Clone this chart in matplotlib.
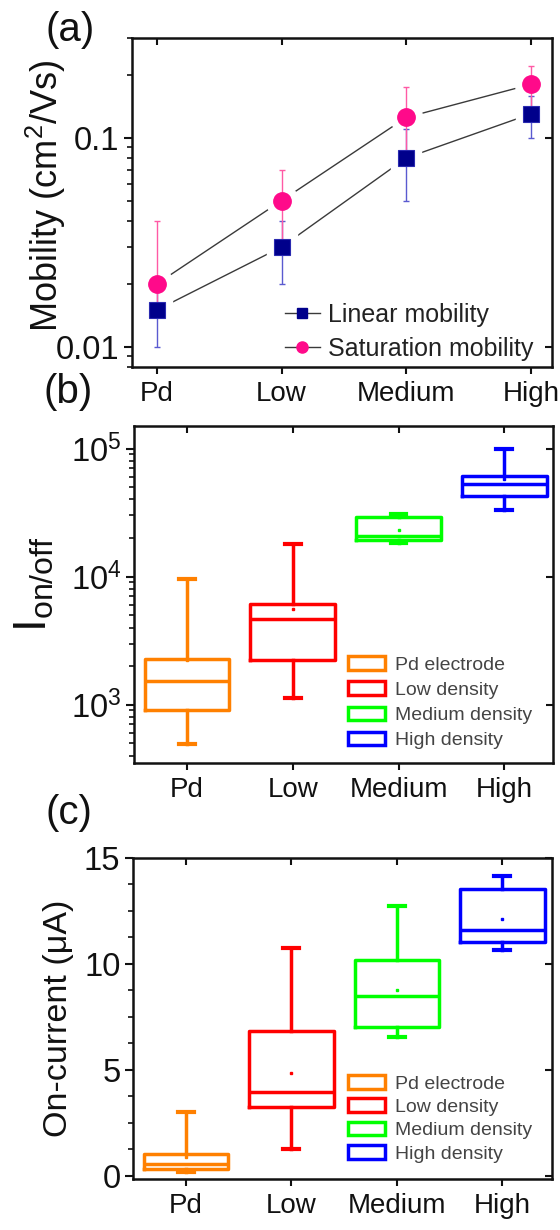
import matplotlib
matplotlib.use('Agg')
import matplotlib.pyplot as plt
import numpy as np
from matplotlib.ticker import LogLocator, NullLocator, NullFormatter, FixedLocator
from matplotlib.patches import Patch
from matplotlib.lines import Line2D

plt.rcParams['font.family'] = ['Liberation Sans', 'DejaVu Sans']
plt.rcParams['mathtext.fontset'] = 'custom'
plt.rcParams['mathtext.rm'] = 'Liberation Sans'
plt.rcParams['mathtext.it'] = 'Liberation Sans:italic'
plt.rcParams['mathtext.bf'] = 'Liberation Sans:bold'

# ---------------- data ----------------
categories = ['Pd', 'Low', 'Medium', 'High']

linear_mob = [0.015, 0.030, 0.080, 0.130]
linear_lo = [0.010, 0.020, 0.050, 0.100]
linear_hi = [0.020, 0.040, 0.110, 0.158]
sat_mob = [0.020, 0.050, 0.125, 0.180]
sat_lo = [0.015, 0.030, 0.075, 0.139]
sat_hi = [0.040, 0.070, 0.175, 0.220]

legend_labels = ['Pd electrode', 'Low density', 'Medium density', 'High density']
box_colors = ['#FF8000', '#FF0000', '#00FF00', '#0000FF']

onoff_whislo = [497, 1127, 18300, 33300]
onoff_q1 = [915, 2240, 19400, 42900]
onoff_med = [1517, 4630, 20900, 52800]
onoff_q3 = [2265, 6160, 29100, 61400]
onoff_whishi = [9530, 18000, 30900, 100000]
onoff_mean = [2250, 5570, 23200, 57800]

ion_whislo = [0.17, 1.26, 6.54, 10.67]
ion_q1 = [0.31, 3.27, 7.01, 11.03]
ion_med = [0.57, 3.94, 8.50, 11.62]
ion_q3 = [1.02, 6.82, 10.20, 13.55]
ion_whishi = [3.00, 10.75, 12.74, 14.14]
ion_mean = [0.90, 4.83, 8.77, 12.12]

# ---------------- figure ----------------
W, H = 560, 1230
fig = plt.figure(figsize=(W / 100, H / 100), dpi=100)

def fax(l, t, r, b):
    return fig.add_axes([l / W, 1 - b / H, (r - l) / W, (b - t) / H])

axA = fax(132, 38, 552, 367)
axB = fax(134, 426, 553, 763)
axC = fax(133, 858, 552, 1179)

x = np.arange(1, len(categories) + 1)
TXT = '#111111'


def style_main(ax, xlim):
    for s in ax.spines.values():
        s.set_linewidth(1.8)
        s.set_color(TXT)
    ax.set_xlim(*xlim)
    ax.set_xticks(x)
    ax.set_xticklabels(categories)
    ax.tick_params(axis='x', which='major', direction='out', length=5, width=1.5,
                   pad=5, labelsize=20, colors=TXT, top=False)
    ax.tick_params(axis='x', which='minor', bottom=False, top=False)
    ax.tick_params(axis='y', which='major', direction='out', length=6, width=1.5,
                   pad=3, labelsize=23.5, colors=TXT, right=False)
    ax.tick_params(axis='y', which='minor', direction='out', length=3.5, width=1.2,
                   colors=TXT, right=False)


def add_mirror(ax, yticks):
    axt = ax.twiny()
    axt.set_xlim(ax.get_xlim())
    axt.set_xticks(ax.get_xticks())
    axt.xaxis.set_minor_locator(NullLocator())
    axt.tick_params(axis='x', which='major', direction='in', length=5, width=1.5,
                    labeltop=False, top=True, colors=TXT)
    axr = ax.twinx()
    axr.set_yscale(ax.get_yscale())
    axr.set_ylim(ax.get_ylim())
    axr.set_yticks(yticks)
    axr.yaxis.set_minor_locator(NullLocator())
    axr.tick_params(axis='y', which='major', direction='in', length=5, width=1.5,
                    labelright=False, right=True, colors=TXT)
    for a in (axt, axr):
        for s in a.spines.values():
            s.set_visible(False)


# ---------------- panel (a) ----------------
ax = axA
navy = '#00008B'
pink = '#FF0A8A'
ax.set_yscale('log')
ax.plot(x, linear_mob, color='#3a3a3a', lw=1.0, zorder=1)
ax.plot(x, sat_mob, color='#3a3a3a', lw=1.0, zorder=1)
ax.plot(x, linear_mob, ls='none', marker='s', ms=22, mfc='white', mec='white', zorder=2)
ax.plot(x, sat_mob, ls='none', marker='o', ms=23, mfc='white', mec='white', zorder=2)
lm = np.array(linear_mob)
sm = np.array(sat_mob)
ax.errorbar(x, lm, yerr=[lm - np.array(linear_lo), np.array(linear_hi) - lm], fmt='none',
            ecolor='#5a5ad0', elinewidth=1.0, capsize=2, capthick=1.0, zorder=3)
ax.errorbar(x, sm, yerr=[sm - np.array(sat_lo), np.array(sat_hi) - sm], fmt='none',
            ecolor='#FF5AA5', elinewidth=1.0, capsize=2, capthick=1.0, zorder=3)
ax.plot(x, linear_mob, ls='none', marker='s', ms=11, mfc=navy, mec='#2a2ab0', mew=0.8, zorder=4)
ax.plot(x, sat_mob, ls='none', marker='o', ms=12.5, mfc=pink, mec=pink, zorder=4)
ax.set_ylim(0.008, 0.3)
style_main(ax, (0.8, 4.17))
ax.set_yticks([0.01, 0.1])
ax.set_yticklabels(['0.01', '0.1'])
ax.yaxis.set_minor_locator(LogLocator(base=10, subs=np.arange(2, 10)))
ax.yaxis.set_minor_formatter(NullFormatter())
ax.set_ylabel(r'Mobility (cm$^{\mathregular{2}}$/Vs)', fontsize=26, color=TXT)
ax.yaxis.set_label_coords(-0.153, 0.52)
hA = [Line2D([], [], color='#3a3a3a', lw=1.0, marker='s', ms=7, mfc=navy, mec=navy),
      Line2D([], [], color='#3a3a3a', lw=1.0, marker='o', ms=8, mfc=pink, mec=pink)]
leg = ax.legend(hA, ['Linear mobility', 'Saturation mobility'], loc='upper left',
                bbox_to_anchor=(0.364, 0.196), frameon=False, fontsize=18,
                handlelength=1.4, handletextpad=0.32, labelspacing=0.4,
                borderpad=0, borderaxespad=0)
for t in leg.get_texts():
    t.set_color('#222222')
add_mirror(ax, [0.01, 0.1])


# ---------------- box panels ----------------
def draw_boxes(ax, whislo, q1, med, q3, whishi, mean):
    stats = []
    for i in range(len(categories)):
        stats.append({'whislo': whislo[i], 'q1': q1[i], 'med': med[i], 'q3': q3[i],
                      'whishi': whishi[i], 'mean': mean[i], 'fliers': []})
    res = ax.bxp(stats, positions=x, widths=0.8, capwidths=0.15, showmeans=True,
                 showfliers=False, patch_artist=False)
    for i, c in enumerate(box_colors):
        res['boxes'][i].set(color=c, lw=2.5)
        res['medians'][i].set(color=c, lw=2.5)
        for j in (2 * i, 2 * i + 1):
            res['whiskers'][j].set(color=c, lw=2.5)
            res['caps'][j].set(color=c, lw=3.0)
        res['means'][i].set(marker='s', ms=2.0, mfc=c, mec=c)


def box_legend(ax, anchor, spacing):
    handles = [Patch(facecolor='white', edgecolor=c, lw=2.5) for c in box_colors]
    leg = ax.legend(handles, legend_labels, loc='upper left', bbox_to_anchor=anchor,
                    frameon=False, fontsize=14, handlelength=1.9, handleheight=0.7,
                    handletextpad=0.5, labelspacing=spacing, borderpad=0, borderaxespad=0)
    for t in leg.get_texts():
        t.set_color('#444444')


# ---------------- panel (b) ----------------
ax = axB
ax.set_yscale('log')
draw_boxes(ax, onoff_whislo, onoff_q1, onoff_med, onoff_q3, onoff_whishi, onoff_mean)
ax.set_ylim(350, 1.5e5)
style_main(ax, (0.5, 4.46))
ax.set_yticks([1e3, 1e4, 1e5])
ax.yaxis.set_minor_locator(LogLocator(base=10, subs=np.arange(2, 10)))
ax.yaxis.set_minor_formatter(NullFormatter())
ax.set_ylabel(r'I$_{\mathregular{on/off}}$', fontsize=33, color=TXT)
ax.yaxis.set_label_coords(-0.184, 0.53)
box_legend(ax, (0.511, 0.317), 0.39)
add_mirror(ax, [1e3, 1e4, 1e5])

# ---------------- panel (c) ----------------
ax = axC
draw_boxes(ax, ion_whislo, ion_q1, ion_med, ion_q3, ion_whishi, ion_mean)
ax.set_ylim(-0.15, 15)
style_main(ax, (0.5, 4.47))
ax.set_yticks([0, 5, 10, 15])
ax.set_yticklabels(['0', '5', '10', '15'])
ax.yaxis.set_minor_locator(FixedLocator(np.arange(0, 15.01, 1.25)))
ax.set_ylabel('On-current (μA)', fontsize=24.5, color=TXT)
ax.yaxis.set_label_coords(-0.14, 0.5)
box_legend(ax, (0.513, 0.324), 0.30)
add_mirror(ax, [0, 5, 10, 15])

# ---------------- panel labels ----------------
fig.text(45 / W, 1 - 30 / H, '(a)', fontsize=29, va='center', ha='left', color=TXT)
fig.text(43 / W, 1 - 392 / H, '(b)', fontsize=29, va='center', ha='left', color=TXT)
fig.text(45 / W, 1 - 813 / H, '(c)', fontsize=29, va='center', ha='left', color=TXT)

fig.savefig('out.png', dpi=100)
